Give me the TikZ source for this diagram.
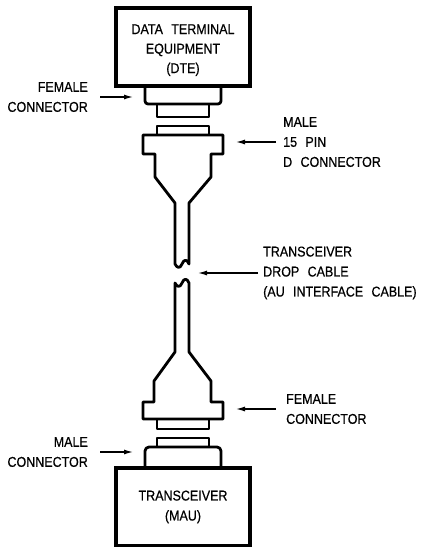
\documentclass[tikz,border=0pt]{standalone}
\usepackage{fontspec}
\setmainfont[FakeStretch=0.88,FakeBold=0.6,WordSpace=2.4]{Liberation Sans}
\usetikzlibrary{arrows.meta}
\tikzset{
	unitbox/.style={draw, line width=3.2pt, inner sep=0pt, align=center, minimum width=134pt},
	part/.style={draw, line width=2.8pt, line join=round},
	callout/.style={inner sep=0pt, font=\fontsize{14.2}{20}\selectfont},
	pointer/.style={-{Latex[length=9pt,width=5pt]}, line width=1.2pt, shorten <=5pt},
}
\begin{document}
\begin{tikzpicture}[x=1pt,y=-1pt]
	\useasboundingbox (0,0) rectangle (423,547);
	% data terminal
	\node[unitbox, minimum height=78pt, font=\fontsize{14.2}{19.5}\selectfont] (dte) at (183,47) {\rule{0pt}{16pt}DATA TERMINAL\\EQUIPMENT\\(DTE)};
	\draw[part] (145,86) -- (145,101) to[out=-90,in=180] (148,104) -- (218,104) to[out=0,in=-90] (221,101) -- (221,86);
	\draw[part] (157,104) -- (157,117) -- (209,117) -- (209,104);
	% upper plug
	\draw[part] (157,135) -- (157,126) -- (209,126) -- (209,135);
	\draw[part] (143,135) -- (223,135) -- (223,154) -- (211,154) -- (211,177) -- (189,203)
		-- (189,264) .. controls (187,259) and (184,259) .. (182,264) .. controls (180,269) and (177,268) .. (175,264)
		-- (175,203) -- (155,177) -- (155,154) -- (143,154) -- cycle;
	% lower plug
	\draw[part] (143,419) -- (223,419) -- (223,402) -- (211,402) -- (211,381) -- (189,352)
		-- (189,283) .. controls (187,278) and (184,278) .. (182,283) .. controls (180,288) and (177,287) .. (175,283)
		-- (175,352) -- (154,381) -- (154,402) -- (143,402) -- cycle;
	\draw[part] (157,419) -- (157,429) -- (209,429) -- (209,419);
	% transceiver
	\node[unitbox, minimum height=78pt, font=\fontsize{14.2}{20}\selectfont] (mau) at (183,507) {TRANSCEIVER\\(MAU)};
	\draw[part] (157,447) -- (157,438) -- (209,438) -- (209,447);
	\draw[part] (145,468) -- (145,451) to[out=90,in=180] (149,447) -- (217,447) to[out=0,in=90] (221,451) -- (221,468);
	% labels
	\node[callout, align=right, anchor=east] (femaleTop) at (88,97) {FEMALE\\CONNECTOR};
	\node[callout, align=right, anchor=east] (maleBottom) at (88,452) {MALE\\CONNECTOR};
	\node[callout, align=left, anchor=west] (malePin) at (283,142) {MALE\\15 PIN\\D CONNECTOR};
	\node[callout, align=left, anchor=west] (dropCable) at (263,273) {TRANSCEIVER\\DROP CABLE\\(AU INTERFACE CABLE)};
	\node[callout, align=left, anchor=west] (femaleBottom) at (286,409) {FEMALE\\CONNECTOR};
	% arrows
	\coordinate (femaleTopTip) at (133,97);
	\coordinate (maleBottomTip) at (133,452);
	\coordinate (malePinTip) at (236,142);
	\coordinate (dropCableTip) at (198,273);
	\coordinate (femaleBottomTip) at (236,409);
	\draw[pointer, shorten <=12pt] (femaleTop.east) -- (femaleTopTip);
	\draw[pointer, shorten <=12pt] (maleBottom.east) -- (maleBottomTip);
	\draw[pointer, shorten <=7pt] (malePin.west) -- (malePinTip);
	\draw[pointer] (dropCable.west) -- (dropCableTip);
	\draw[pointer, shorten <=10pt] (femaleBottom.west) -- (femaleBottomTip);
\end{tikzpicture}
\end{document}
